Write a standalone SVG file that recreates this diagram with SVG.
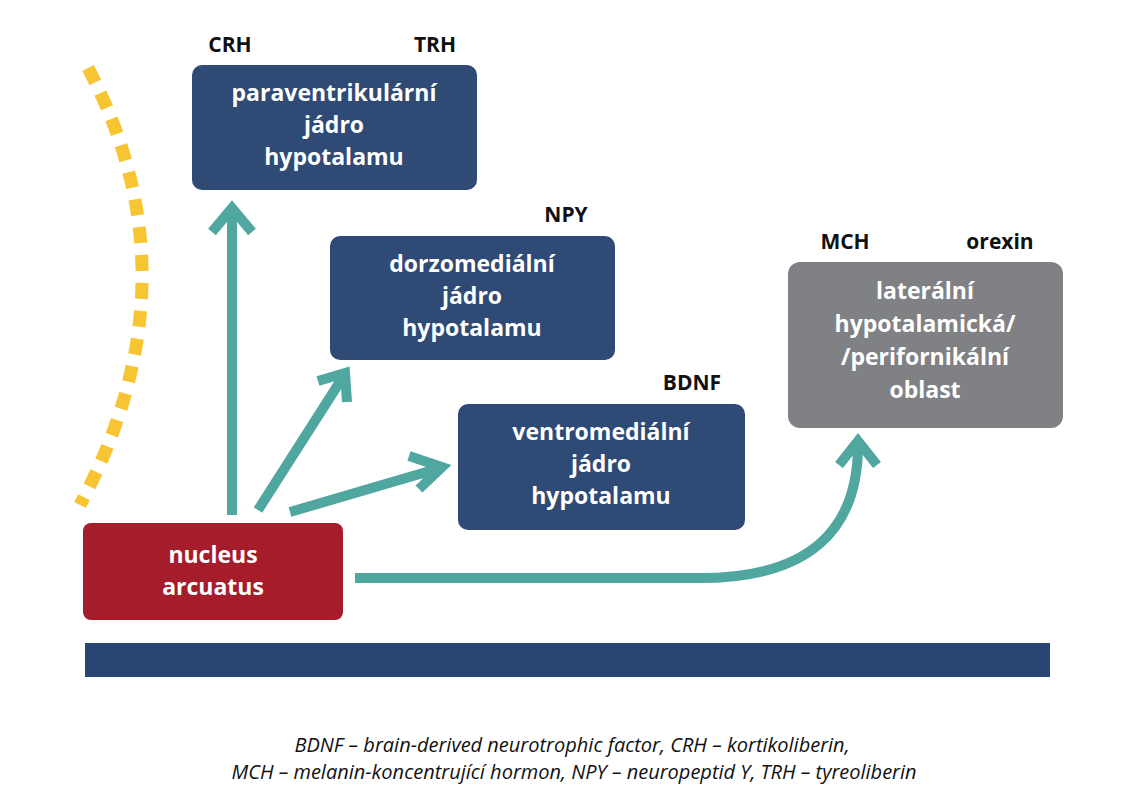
<svg xmlns="http://www.w3.org/2000/svg" width="1148" height="800" viewBox="0 0 1148 800">
<style>
.bt{font-family:"Open Sans","Liberation Sans",sans-serif;font-weight:bold;font-size:23px;fill:#fff;text-anchor:middle}
.lb{font-family:"Open Sans","Liberation Sans",sans-serif;font-weight:bold;font-size:21px;fill:#111;text-anchor:middle}
.cap{font-family:"Open Sans","Liberation Sans",sans-serif;font-style:italic;font-size:20px;fill:#111;text-anchor:middle}
.ar{fill:none;stroke:#4FA7A0;stroke-width:10;stroke-linejoin:miter}
</style>
<rect width="1148" height="800" fill="#fff"/>
<path d="M88,68 Q200,280 80,505" fill="none" stroke="#F7C531" stroke-width="13" stroke-dasharray="16,12"/>
<g id="pvn"><rect x="192" y="65" width="285" height="125" rx="10" fill="#2E4A75"/>
<text class="bt" x="334" y="101">paraventrikulární</text><text class="bt" x="334" y="133">jádro</text><text class="bt" x="334" y="165">hypotalamu</text>
<text class="lb" x="230" y="52">CRH</text><text class="lb" x="435" y="52">TRH</text></g>
<g id="dmn"><rect x="330" y="236" width="285" height="124" rx="10" fill="#2E4A75"/>
<text class="bt" x="472" y="272">dorzomediální</text><text class="bt" x="472" y="304">jádro</text><text class="bt" x="472" y="336">hypotalamu</text>
<text class="lb" x="566" y="222">NPY</text></g>
<g id="vmn"><rect x="458" y="404" width="287" height="126" rx="10" fill="#2E4A75"/>
<text class="bt" x="601" y="440">ventromediální</text><text class="bt" x="601" y="472">jádro</text><text class="bt" x="601" y="504">hypotalamu</text>
<text class="lb" x="692" y="390">BDNF</text></g>
<g id="lat"><rect x="788" y="262" width="275" height="166" rx="12" fill="#808184"/>
<text class="bt" x="925" y="299">laterální</text><text class="bt" x="925" y="332">hypotalamická/</text><text class="bt" x="925" y="365">/perifornikální</text><text class="bt" x="925" y="398">oblast</text>
<text class="lb" x="845" y="249">MCH</text><text class="lb" x="1000" y="249">orexin</text></g>
<g id="arc"><rect x="83" y="523" width="260" height="97" rx="8" fill="#A51C2B"/>
<text class="bt" x="213" y="563">nucleus</text><text class="bt" x="213" y="595">arcuatus</text></g>
<rect x="85" y="643" width="965" height="34" fill="#2A4574"/>
<g id="connectors">
<path class="ar" d="M232,515 V210 M212,232 L232,208 L252,232"/>
<path class="ar" d="M258,510 L343,377 M318,381 L345,373 L347,402"/>
<path class="ar" d="M290,512 L440,468 M409,456 L442,467 L419,489"/>
<path class="ar" d="M355,578 L700,578 Q858,578 858,445 M839,465 L858,441 L877,465"/>
</g>
<text class="cap" x="572" y="752">BDNF – brain-derived neurotrophic factor, CRH – kortikoliberin,</text>
<text class="cap" x="574" y="779">MCH – melanin-koncentrující hormon, NPY – neuropeptid Y, TRH – tyreoliberin</text>
</svg>
